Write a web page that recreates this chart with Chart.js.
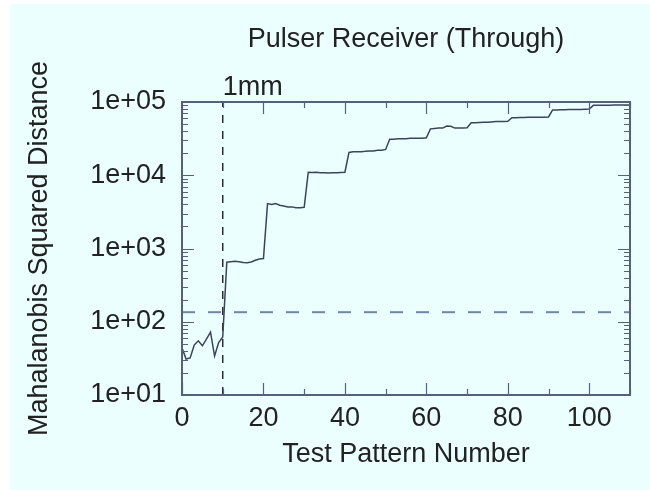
<!DOCTYPE html>
<html>
<head>
<meta charset="utf-8">
<script src="https://cdn.jsdelivr.net/npm/chart.js@4/dist/chart.umd.min.js"></script>
<style>
  html, body { margin: 0; padding: 0; background: #ffffff; }
  #wrap { position: relative; width: 650px; height: 490px; overflow: hidden; }
  #bg { position: absolute; left: 10px; top: 4px; width: 640px; height: 486px; background: #ebffff; }
  #c { position: absolute; left: 0; top: 0; }
</style>
</head>
<body>
<div id="wrap">
  <div id="bg"></div>
  <canvas id="c" width="650" height="490"></canvas>
</div>
<script>
// ---- data ----
const chartTitle = 'Pulser Receiver (Through)';
const xTitle = 'Test Pattern Number';
const yTitle = 'Mahalanobis Squared Distance';

const patternNumbers = [
  0, 1, 2, 3, 4, 5, 6, 7, 8, 9, 10,
  11, 12, 13, 14, 15, 16, 17, 18, 19, 20,
  21, 22, 23, 24, 25, 26, 27, 28, 29, 30,
  31, 32, 33, 34, 35, 36, 37, 38, 39, 40,
  41, 42, 43, 44, 45, 46, 47, 48, 49, 50,
  51, 52, 53, 54, 55, 56, 57, 58, 59, 60,
  61, 62, 63, 64, 65, 66, 67, 68, 69, 70,
  71, 72, 73, 74, 75, 76, 77, 78, 79, 80,
  81, 82, 83, 84, 85, 86, 87, 88, 89, 90,
  91, 92, 93, 94, 95, 96, 97, 98, 99, 100,
  101, 102, 103, 104, 105, 106, 107, 108, 109, 110
];

const distances = [
  44, 31, 32, 48, 55, 47, 58, 72, 34, 52, 62,
  650, 660, 670, 660, 645, 640, 655, 690, 720, 730,
  4100, 4000, 4100, 3900, 3800, 3700, 3700, 3600, 3600, 3650,
  11000, 10900, 11000, 10800, 10800, 10700, 10800, 10800, 10900, 11000,
  20500, 21000, 21000, 21000, 21200, 21500, 21500, 22000, 22000, 22500,
  31000, 31000, 31500, 31500, 31500, 32000, 32000, 32000, 32000, 32500,
  43000, 43500, 44000, 44000, 47000, 46500, 44000, 44000, 44000, 44500,
  52000, 52000, 52500, 53000, 53000, 53500, 54000, 54000, 54000, 54500,
  61000, 61000, 61500, 61500, 62000, 62000, 62000, 62000, 62000, 62500,
  78000, 78000, 78500, 78500, 79000, 79000, 79000, 79000, 79500, 80000,
  90000, 90000, 90000, 90500, 90500, 91000, 91000, 91000, 91000, 91000
];

const xRange = [0, 110];
const yRange = [10, 100000];
const xTickValues = [0, 20, 40, 60, 80, 100];
const xTickLabels = ['0', '20', '40', '60', '80', '100'];
const yTickValues = [10, 100, 1000, 10000, 100000];
const yTickLabels = ['1e+01', '1e+02', '1e+03', '1e+04', '1e+05'];
const thresholdValue = 135;
const markerPattern = 10;
const markerLabel = '1mm';

// ---- chart ----
const FONT = "'Liberation Sans', Arial, Helvetica, sans-serif";
const TXT = '#222222';
const font27 = { family: FONT, size: 27, weight: 'normal' };

const seriesData = patternNumbers.map((p, i) => ({ x: p, y: distances[i] }));
const thresholdData = [{ x: xRange[0], y: thresholdValue }, { x: xRange[1], y: thresholdValue }];
const markerData = [{ x: markerPattern, y: yRange[0] }, { x: markerPattern, y: yRange[1] }];

const frameTicks = {
  id: 'frameTicks',
  afterDraw(chart) {
    const { ctx, chartArea: a, scales: { x, y } } = chart;
    ctx.save();
    ctx.strokeStyle = '#56607a';
    ctx.lineWidth = 1.2;
    ctx.beginPath();
    for (let v = x.min; v <= x.max + 1e-9; v += 10) {
      const px = Math.round(x.getPixelForValue(v)) + 0.5;
      const len = (Math.round(v) % 20 === 0) ? 12 : 6;
      ctx.moveTo(px, a.bottom); ctx.lineTo(px, a.bottom - len);
      ctx.moveTo(px, a.top); ctx.lineTo(px, a.top + len);
    }
    const e0 = Math.round(Math.log10(y.min));
    const e1 = Math.round(Math.log10(y.max));
    for (let e = e0; e <= e1; e++) {
      for (let k = 1; k <= 9; k++) {
        const v = k * Math.pow(10, e);
        if (v > y.max * 1.0001) break;
        const py = Math.round(y.getPixelForValue(v)) + 0.5;
        const len = k === 1 ? 12 : 6;
        ctx.moveTo(a.left, py); ctx.lineTo(a.left + len, py);
        ctx.moveTo(a.right, py); ctx.lineTo(a.right - len, py);
      }
    }
    ctx.stroke();
    ctx.lineWidth = 2;
    ctx.strokeRect(a.left, a.top, a.right - a.left, a.bottom - a.top);
    ctx.restore();
  }
};

new Chart(document.getElementById('c'), {
  type: 'line',
  data: {
    datasets: [
      {
        data: seriesData,
        borderColor: '#3b4458',
        borderWidth: 1.5,
        pointRadius: 0,
        tension: 0,
        fill: false
      },
      {
        data: thresholdData,
        borderColor: '#7283a8',
        borderWidth: 2,
        borderDash: [13, 13],
        pointRadius: 0,
        fill: false
      },
      {
        data: markerData,
        borderColor: '#2a2d36',
        borderWidth: 1.5,
        borderDash: [8, 8],
        pointRadius: 0,
        fill: false
      }
    ]
  },
  options: {
    responsive: false,
    animation: false,
    devicePixelRatio: 1,
    layout: { padding: { left: 10, right: 20, top: 0, bottom: 0 } },
    plugins: {
      legend: { display: false },
      tooltip: { enabled: false },
      title: {
        display: true,
        text: chartTitle,
        fullSize: false,
        color: TXT,
        font: font27,
        padding: { top: 23, bottom: 0 }
      }
    },
    scales: {
      x: {
        type: 'linear',
        position: 'bottom',
        min: xRange[0],
        max: xRange[1],
        grid: { display: false, drawTicks: false },
        border: { display: false },
        afterBuildTicks: s => { s.ticks = xTickValues.map(v => ({ value: v })); },
        afterFit: s => { s.height = 95; },
        ticks: {
          autoSkip: false,
          maxRotation: 0,
          padding: 7,
          color: TXT,
          font: font27,
          callback: v => { const i = xTickValues.indexOf(v); return i >= 0 ? xTickLabels[i] : ''; }
        },
        title: {
          display: true,
          text: xTitle,
          color: TXT,
          font: font27,
          padding: { top: 0, bottom: 19 }
        }
      },
      x2: {
        type: 'linear',
        position: 'top',
        min: xRange[0],
        max: xRange[1],
        grid: { display: false, drawTicks: false },
        border: { display: false },
        afterBuildTicks: s => { s.ticks = [{ value: markerPattern }]; },
        afterFit: s => { s.height = 46.6; },
        ticks: {
          autoSkip: false,
          maxRotation: 0,
          align: 'start',
          padding: 1,
          color: TXT,
          font: { family: FONT, size: 27, weight: 'normal', lineHeight: 1 },
          callback: v => (v === markerPattern ? markerLabel : '')
        }
      },
      y: {
        type: 'logarithmic',
        position: 'left',
        min: yRange[0],
        max: yRange[1],
        grid: { display: false, drawTicks: false },
        border: { display: false },
        afterBuildTicks: s => { s.ticks = yTickValues.map(v => ({ value: v })); },
        afterFit: s => { s.width = 172; },
        ticks: {
          autoSkip: false,
          padding: 16,
          color: TXT,
          font: font27,
          callback: v => { const i = yTickValues.indexOf(v); return i >= 0 ? yTickLabels[i] : ''; }
        },
        title: {
          display: true,
          text: yTitle,
          color: TXT,
          font: font27,
          padding: { top: 13, bottom: 0 }
        }
      }
    }
  },
  plugins: [frameTicks]
});
</script>
</body>
</html>
